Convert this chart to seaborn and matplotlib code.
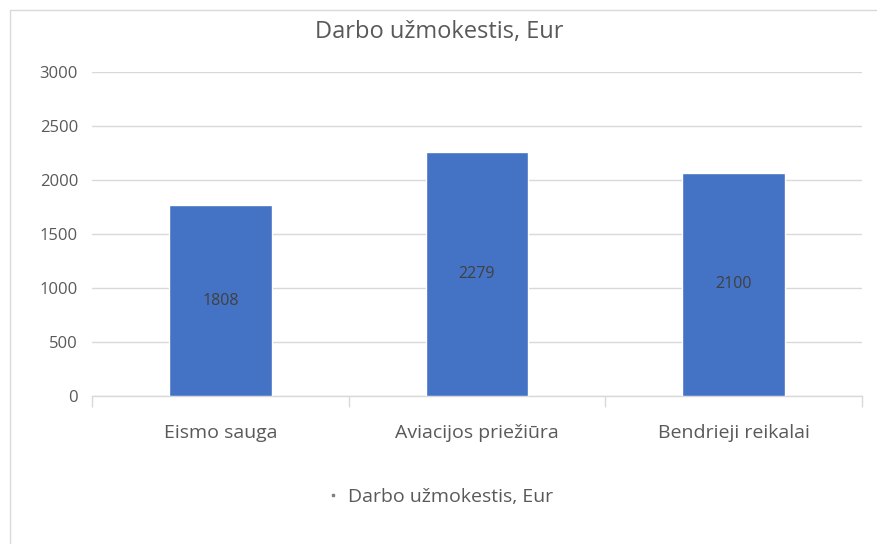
import matplotlib
matplotlib.use("Agg")
import matplotlib.pyplot as plt
import seaborn as sns
import pandas as pd
from matplotlib.patches import Rectangle
from matplotlib.lines import Line2D

categories = ["Eismo sauga", "Aviacijos priežiūra", "Bendrieji reikalai"]
bar_heights = [1765, 2257, 2069]
data_labels = ["1808", "2279", "2100"]
series_name = "Darbo užmokestis, Eur"
yticks = [0, 500, 1000, 1500, 2000, 2500, 3000]

df = pd.DataFrame({"kategorija": categories, "reiksme": bar_heights})

sns.set_theme(style="white")
plt.rcParams["font.family"] = ["Open Sans", "DejaVu Sans"]

grey = "#595959"
bar_color = "#4472C4"

fig = plt.figure(figsize=(8.78, 5.44), dpi=100)
ax = fig.add_axes([92 / 878, 1 - 396 / 544, 770 / 878, 324 / 544])

sns.barplot(data=df, x="kategorija", y="reiksme", color=bar_color,
            saturation=1, width=0.4, ax=ax, zorder=3)

ax.bar_label(ax.containers[0], labels=data_labels, label_type="center",
             color="#404040", fontsize=11.5)

ax.set_ylim(0, 3000)
ax.set_xlim(-0.5, 2.5)
ax.set_yticks(yticks)
ax.yaxis.grid(True, color="#d9d9d9", linewidth=1, zorder=0)
ax.set_xlabel("")
ax.set_ylabel("")

for side in ["top", "right", "left"]:
    ax.spines[side].set_visible(False)
ax.spines["bottom"].set_color("#d9d9d9")
ax.spines["bottom"].set_linewidth(1)

ax.tick_params(axis="y", length=0, pad=10, labelsize=12, labelcolor=grey)
ax.tick_params(axis="x", which="major", length=0, pad=20, labelsize=14,
               labelcolor=grey)
ax.set_xticks([-0.5, 0.5, 1.5, 2.5], minor=True)
ax.tick_params(axis="x", which="minor", bottom=True, length=8, width=1,
               color="#d9d9d9", direction="out")

fig.text(0.5, 1 - 32 / 544, series_name, ha="center", va="center",
         fontsize=17, color=grey)

handle = Line2D([], [], marker="s", linestyle="none", markersize=2,
                color="#7f7f7f")
fig.legend([handle], [series_name], loc="center",
           bbox_to_anchor=(440 / 878, 1 - 497 / 544), frameon=False,
           fontsize=14, labelcolor=grey, handlelength=0.6, handletextpad=0.5)

fig.patches.append(Rectangle((10 / 878, -0.1), 1.1, 1 - 10 / 544 + 0.1,
                             transform=fig.transFigure, fill=False,
                             edgecolor="#d9d9d9", linewidth=1))

fig.savefig("out.png", dpi=100)
